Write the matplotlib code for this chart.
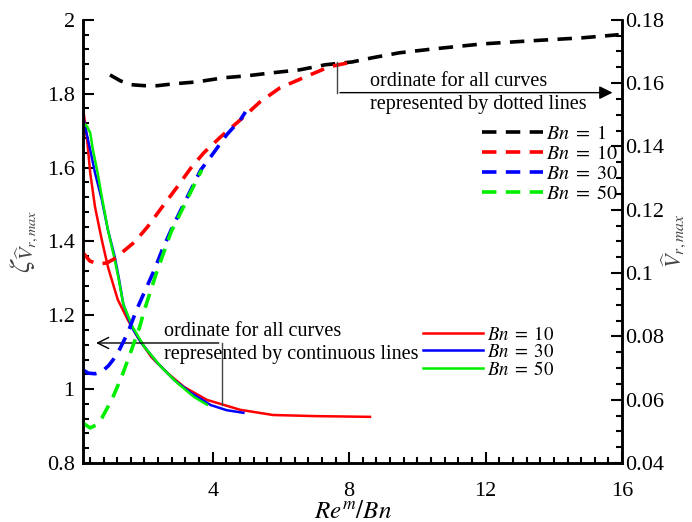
import matplotlib
matplotlib.use("Agg")
import matplotlib.pyplot as plt
from matplotlib.ticker import MultipleLocator, FuncFormatter

plt.rcParams['font.family'] = ['Liberation Serif', 'DejaVu Serif']
plt.rcParams['mathtext.fontset'] = 'stix'

# === data ===
# dashed curves -> right axis (V_r,max)
x_v1 = [0.99, 1.3, 1.62, 2.0, 2.38, 2.87, 3.54, 4.32, 4.99, 5.77, 6.55, 7.30, 8.09, 8.67, 9.48, 10.46, 11.91, 13.36, 14.81, 15.9]
v_v1 = [0.1626, 0.1607, 0.1595, 0.1592, 0.1592, 0.1598, 0.1604, 0.1617, 0.1623, 0.1633, 0.1642, 0.1658, 0.1667, 0.1680, 0.1696, 0.1708, 0.1724, 0.1734, 0.1743, 0.1753]

x_v10 = [0.2, 0.4, 0.64, 0.90, 1.1, 1.33, 1.71, 2.09, 2.52, 2.96, 3.36, 3.74, 4.23, 4.81, 5.39, 5.97, 6.72, 7.42, 8.1]
v_v10 = [0.1064, 0.1038, 0.1029, 0.1032, 0.1044, 0.1064, 0.1098, 0.1146, 0.1209, 0.1272, 0.1332, 0.1380, 0.1430, 0.1484, 0.1541, 0.1585, 0.1620, 0.1652, 0.1667]

x_v30 = [0.2, 0.35, 0.55, 0.75, 0.95, 1.19, 1.51, 1.77, 2.0, 2.29, 2.52, 2.78, 3.07, 3.36, 3.65, 3.94, 4.41, 4.81, 4.96]
v_v30 = [0.0694, 0.0684, 0.0682, 0.0688, 0.0708, 0.0741, 0.0811, 0.0884, 0.0940, 0.1010, 0.1073, 0.1136, 0.1200, 0.1263, 0.1326, 0.1367, 0.1437, 0.1484, 0.1509]

x_v50 = [0.2, 0.41, 0.58, 0.75, 1.04, 1.33, 1.62, 1.86, 2.0, 2.35, 2.78, 3.07, 3.36, 3.68]
v_v50 = [0.0526, 0.0511, 0.0520, 0.0542, 0.0599, 0.0672, 0.0757, 0.0830, 0.0884, 0.1000, 0.1130, 0.1193, 0.1257, 0.1326]

# solid curves -> left axis (zeta)
x_z10 = [0.2, 0.32, 0.41, 0.55, 0.75, 0.93, 1.13, 1.22, 1.51, 1.80, 2.20, 2.67, 3.16, 3.83, 4.81, 5.77, 7.0, 8.61]
z_z10 = [1.762, 1.675, 1.586, 1.494, 1.404, 1.331, 1.269, 1.242, 1.188, 1.141, 1.087, 1.044, 1.006, 0.971, 0.944, 0.930, 0.927, 0.925]

x_z30 = [0.2, 0.26, 0.41, 0.55, 0.75, 0.93, 1.13, 1.25, 1.38, 1.62, 1.91, 2.38, 2.87, 3.36, 3.94, 4.41, 4.90]
z_z30 = [1.743, 1.711, 1.648, 1.586, 1.513, 1.431, 1.358, 1.300, 1.230, 1.169, 1.125, 1.071, 1.025, 0.990, 0.957, 0.943, 0.936]

x_z50 = [0.2, 0.32, 0.41, 0.49, 0.61, 0.75, 0.93, 1.13, 1.25, 1.38, 1.65, 2.0, 2.49, 2.96, 3.45, 3.83]
z_z50 = [1.721, 1.711, 1.694, 1.648, 1.594, 1.521, 1.431, 1.350, 1.295, 1.230, 1.169, 1.114, 1.060, 1.017, 0.979, 0.958]

fig = plt.figure(figsize=(6.92, 5.22), dpi=100)
ax = fig.add_axes([0.120, 0.113, 0.779, 0.849])
ax2 = ax.twinx()

dash = (0, (4, 2.6))
lw_d = 2.6
lw_s = 1.8
green = '#00ee00'

# === solid curves (left) ===
s10, = ax.plot(x_z10, z_z10, color='red', lw=lw_s, label=r'$Bn\;=\;10$')
s30, = ax.plot(x_z30, z_z30, color='blue', lw=lw_s, label=r'$Bn\;=\;30$')
s50, = ax.plot(x_z50, z_z50, color=green, lw=lw_s, label=r'$Bn\;=\;50$')

# === dashed curves (right) ===
d1, = ax2.plot(x_v1, v_v1, color='black', lw=lw_d, ls=dash, label=r'$Bn\;=\;1$')
d10, = ax2.plot(x_v10, v_v10, color='red', lw=lw_d, ls=dash, label=r'$Bn\;=\;10$')
d30, = ax2.plot(x_v30, v_v30, color='blue', lw=lw_d, ls=dash, label=r'$Bn\;=\;30$')
d50, = ax2.plot(x_v50, v_v50, color=green, lw=lw_d, ls=dash, label=r'$Bn\;=\;50$')

ax.set_xlim(0.2, 16)
ax.set_ylim(0.8, 2.0)
ax2.set_ylim(0.04, 0.18)

fmt = FuncFormatter(lambda v, p: '%g' % round(v, 4))
ax.xaxis.set_major_locator(MultipleLocator(4))
ax.xaxis.set_minor_locator(MultipleLocator(0.4))
ax.yaxis.set_major_locator(MultipleLocator(0.2))
ax.yaxis.set_minor_locator(MultipleLocator(0.04))
ax2.yaxis.set_major_locator(MultipleLocator(0.02))
ax2.yaxis.set_minor_locator(MultipleLocator(0.005))
ax.xaxis.set_major_formatter(fmt)
ax.yaxis.set_major_formatter(fmt)
ax2.yaxis.set_major_formatter(fmt)

for a in (ax, ax2):
    a.spines['top'].set_visible(False)
    for s in a.spines.values():
        s.set_linewidth(1.8)
    a.tick_params(which='both', direction='in', width=1.5, labelsize=16)
    a.tick_params(which='major', length=8)
    a.tick_params(which='minor', length=4.5)
ax.tick_params(axis='x', pad=14)
ax.tick_params(axis='y', pad=6)
ax2.tick_params(axis='y', pad=2)

ax.set_xlabel('$Re^m/Bn$', fontsize=18, labelpad=0)
ax.set_ylabel(r'$\zeta_{\widehat{V}_{r,max}}$', fontsize=21, color='#444444', labelpad=4)
ax2.set_ylabel(r'$\widehat{V}_{r,max}$', fontsize=16, color='#444444', labelpad=-3)

# === annotations ===
ax2.plot([7.65, 7.65], [0.1667, 0.1570], color='#444444', lw=1)
ax2.annotate('', xy=(15.8, 0.1570), xytext=(7.65, 0.1570),
             arrowprops=dict(arrowstyle='-|>', color='black', lw=1, mutation_scale=20))
ax2.text(8.6, 0.1576, 'ordinate for all curves', fontsize=14.5, va='bottom', ha='left')
ax2.text(8.6, 0.1564, 'represented by dotted lines', fontsize=14.5, va='top', ha='left')

ax.plot([4.26, 4.26], [0.957, 1.125], color='#444444', lw=1)
ax.annotate('', xy=(0.5, 1.125), xytext=(4.26, 1.125),
            arrowprops=dict(arrowstyle='->', color='black', lw=1, mutation_scale=20))
ax.text(2.58, 1.13, 'ordinate for all curves', fontsize=14.5, va='bottom', ha='left')
ax.text(2.58, 1.12, 'represented by continuous lines', fontsize=14.5, va='top', ha='left')

# === legends ===
leg1 = ax2.legend(handles=[d1, d10, d30, d50], loc='upper right',
                  bbox_to_anchor=(1.014, 0.79), frameon=False, fontsize=14.5,
                  handlelength=3.0, handletextpad=0.15, labelspacing=0.05,
                  borderpad=0.1)
leg2 = ax2.legend(handles=[s10, s30, s50], loc='upper left',
                  bbox_to_anchor=(0.61, 0.335), frameon=False, fontsize=13.5,
                  handlelength=3.2, handletextpad=0.2, labelspacing=0.0,
                  borderpad=0.1)
ax2.add_artist(leg1)

fig.savefig('out.png', dpi=100)
